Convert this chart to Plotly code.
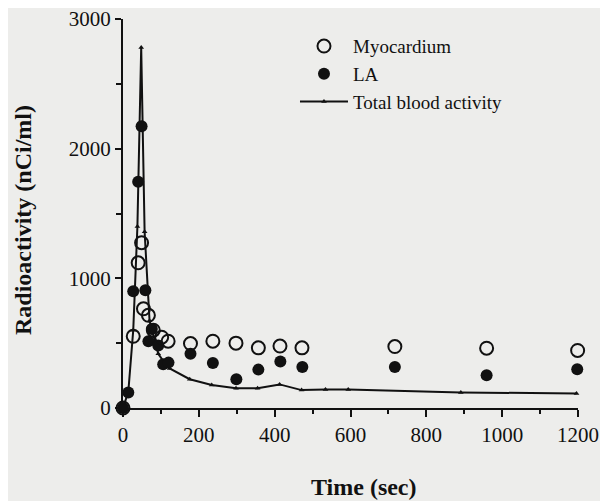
import plotly.graph_objects as go

# Total blood activity (line with small triangles)
blood_t = [0, 14, 27, 38, 48, 57, 70, 93, 111, 123, 176, 234, 298, 355, 413, 471, 534, 594, 891, 1196]
blood_v = [0, 125, 600, 1400, 2780, 1360, 673, 418, 342, 305, 222, 178, 152, 152, 182, 138, 143, 143, 120, 112]

# Myocardium (open circles)
myo_t = [0, 27, 40, 49, 54, 67, 80, 102, 119, 178, 237, 298, 357, 414, 472, 717, 959, 1199]
myo_v = [0, 553, 1120, 1275, 765, 715, 600, 546, 515, 497, 515, 500, 464, 478, 464, 474, 461, 444]

# LA (filled circles)
la_t = [0, 14, 27, 40, 49, 59, 67, 76, 93, 106, 120, 178, 237, 299, 357, 415, 473, 717, 959, 1198]
la_v = [0, 120, 900, 1745, 2173, 908, 515, 610, 482, 338, 350, 418, 347, 222, 296, 358, 316, 316, 252, 298]

x_ticks = [0, 200, 400, 600, 800, 1000, 1200]
y_ticks = [0, 1000, 2000, 3000]

ink = "#111111"
bg = "#ededeb"
serif = "Liberation Serif, Times New Roman, serif"

fig = go.Figure()
fig.add_trace(go.Scatter(
    x=blood_t, y=blood_v, mode="lines+markers", name="Total blood activity",
    line=dict(color=ink, width=2),
    marker=dict(symbol="triangle-up", size=5, color=ink),
    cliponaxis=False, legendrank=3,
))
fig.add_trace(go.Scatter(
    x=la_t, y=la_v, mode="markers", name="LA",
    marker=dict(symbol="circle", size=12, color=ink, line=dict(width=0)),
    cliponaxis=False, legendrank=2,
))
fig.add_trace(go.Scatter(
    x=myo_t, y=myo_v, mode="markers", name="Myocardium",
    marker=dict(symbol="circle-open", size=13, color=ink, line=dict(width=2, color=ink)),
    cliponaxis=False, legendrank=1,
))

fig.update_layout(
    width=608, height=501,
    margin=dict(l=115, r=38, t=11, b=101),
    paper_bgcolor=bg, plot_bgcolor=bg,
    font=dict(family=serif, size=21, color=ink),
    showlegend=True,
    legend=dict(x=0.378, y=0.979, xanchor="left", yanchor="top",
                bgcolor="rgba(0,0,0,0)", font=dict(size=19, family=serif, color=ink),
                itemwidth=48, tracegroupgap=0),
    xaxis=dict(
        range=[0, 1200], tickvals=x_ticks, ticks="outside", ticklen=7, tickwidth=2,
        tickcolor=ink, showline=True, linecolor=ink, linewidth=2, showgrid=False,
        zeroline=False, tickfont=dict(size=21, family=serif), automargin=False,
        ticklabelstandoff=0, ticklabeloverflow="allow",
        minor=dict(dtick=100, ticks="outside", ticklen=4, tickwidth=2, tickcolor=ink, showgrid=False),
    ),
    yaxis=dict(
        range=[0, 3000], tickvals=y_ticks, ticks="outside", ticklen=6, tickwidth=2,
        tickcolor=ink, showline=True, linecolor=ink, linewidth=2, showgrid=False,
        zeroline=False, tickfont=dict(size=21, family=serif), automargin=False,
        ticklabeloverflow="allow",
        minor=dict(dtick=500, ticks="outside", ticklen=5, tickwidth=2, tickcolor=ink, showgrid=False),
    ),
    annotations=[
        dict(text="<b>Time (sec)</b>", xref="paper", yref="paper", x=0.5297, y=-0.2031,
             xanchor="center", yanchor="middle", showarrow=False,
             font=dict(size=24, family=serif, color=ink)),
        dict(text="<b>Radioactivity (nCi/ml)</b>", xref="paper", yref="paper", x=-0.2198, y=0.4833,
             xanchor="center", yanchor="middle", showarrow=False, textangle=-90,
             font=dict(size=24, family=serif, color=ink)),
    ],
)

fig.write_html("out.html")
